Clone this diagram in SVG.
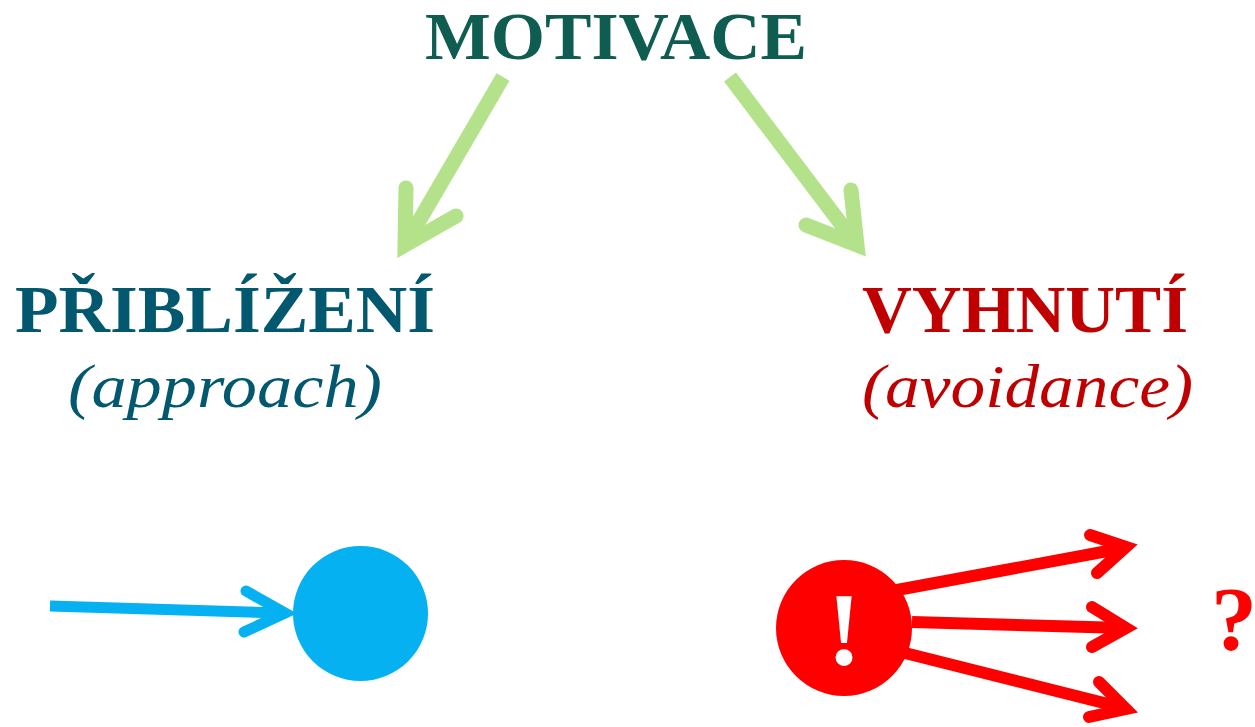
<svg xmlns="http://www.w3.org/2000/svg" width="1255" height="727" viewBox="0 0 1255 727">
<style>
.t{font-family:"Liberation Serif",Tinos,"Times New Roman",Times,serif;font-weight:700}
.i{font-family:"Liberation Serif",Tinos,"Times New Roman",Times,serif;font-style:italic;font-weight:400}
.g{stroke:#B3E28A;stroke-width:15;fill:none}
.r{stroke:#FF0000;stroke-width:12;fill:none}
.b{stroke:#05B1F1;stroke-width:11;fill:none}
.head{stroke-linecap:round;stroke-linejoin:miter;stroke-miterlimit:10}
</style>
<rect width="1255" height="727" fill="#ffffff"/>
<g id="motivace">
<text class="t" font-family="Liberation Serif" x="425" y="59" font-size="68" fill="#0F5C50" textLength="382" lengthAdjust="spacingAndGlyphs">MOTIVACE</text>
</g>
<g id="priblizeni">
<text class="t" font-family="Liberation Serif" x="15" y="332" font-size="68" fill="#02586E" textLength="420" lengthAdjust="spacingAndGlyphs">PŘIBLÍŽENÍ</text>
<text class="i" font-family="Liberation Serif" x="68" y="407" font-size="62" fill="#02586E" textLength="314" lengthAdjust="spacingAndGlyphs">(approach)</text>
</g>
<g id="vyhnuti">
<text class="t" font-family="Liberation Serif" x="862" y="332" font-size="68" fill="#C00000" textLength="326" lengthAdjust="spacingAndGlyphs">VYHNUTÍ</text>
<text class="i" font-family="Liberation Serif" x="862" y="407" font-size="62" fill="#C00000" textLength="331" lengthAdjust="spacingAndGlyphs">(avoidance)</text>
</g>
<g id="approach-target">
<circle cx="360.5" cy="613.5" r="67.5" fill="#05B1F1"/>
</g>
<g id="avoidance-source">
<circle cx="844" cy="628" r="68" fill="#FF0000"/>
<text class="t" font-family="Liberation Serif" x="844" y="665" font-size="104" fill="#ffffff" text-anchor="middle">!</text>
</g>
<g id="question">
<text class="t" font-family="Liberation Serif" x="1234" y="650" font-size="92" fill="#FF0000" text-anchor="middle">?</text>
</g>
<g id="connectors">
<line class="g" x1="503" y1="77" x2="405" y2="245"/>
<polyline class="g head" points="406,188 405,245 456,216"/>
<line class="g" x1="730" y1="77" x2="857" y2="245"/>
<polyline class="g head" points="851,190 857,245 806,225"/>
<line class="b" x1="50" y1="606" x2="283" y2="613"/>
<polyline class="b head" points="246,591 285,613 244,632"/>
<line class="r" x1="897" y1="590" x2="1124" y2="548"/>
<polyline class="r head" points="1090,535 1126,547 1097,573"/>
<line class="r" x1="912" y1="622" x2="1124" y2="628"/>
<polyline class="r head" points="1092,607 1126,628 1092,647"/>
<line class="r" x1="905" y1="653" x2="1124" y2="708"/>
<polyline class="r head" points="1099,682 1126,709 1089,717"/>
</g>
</svg>
